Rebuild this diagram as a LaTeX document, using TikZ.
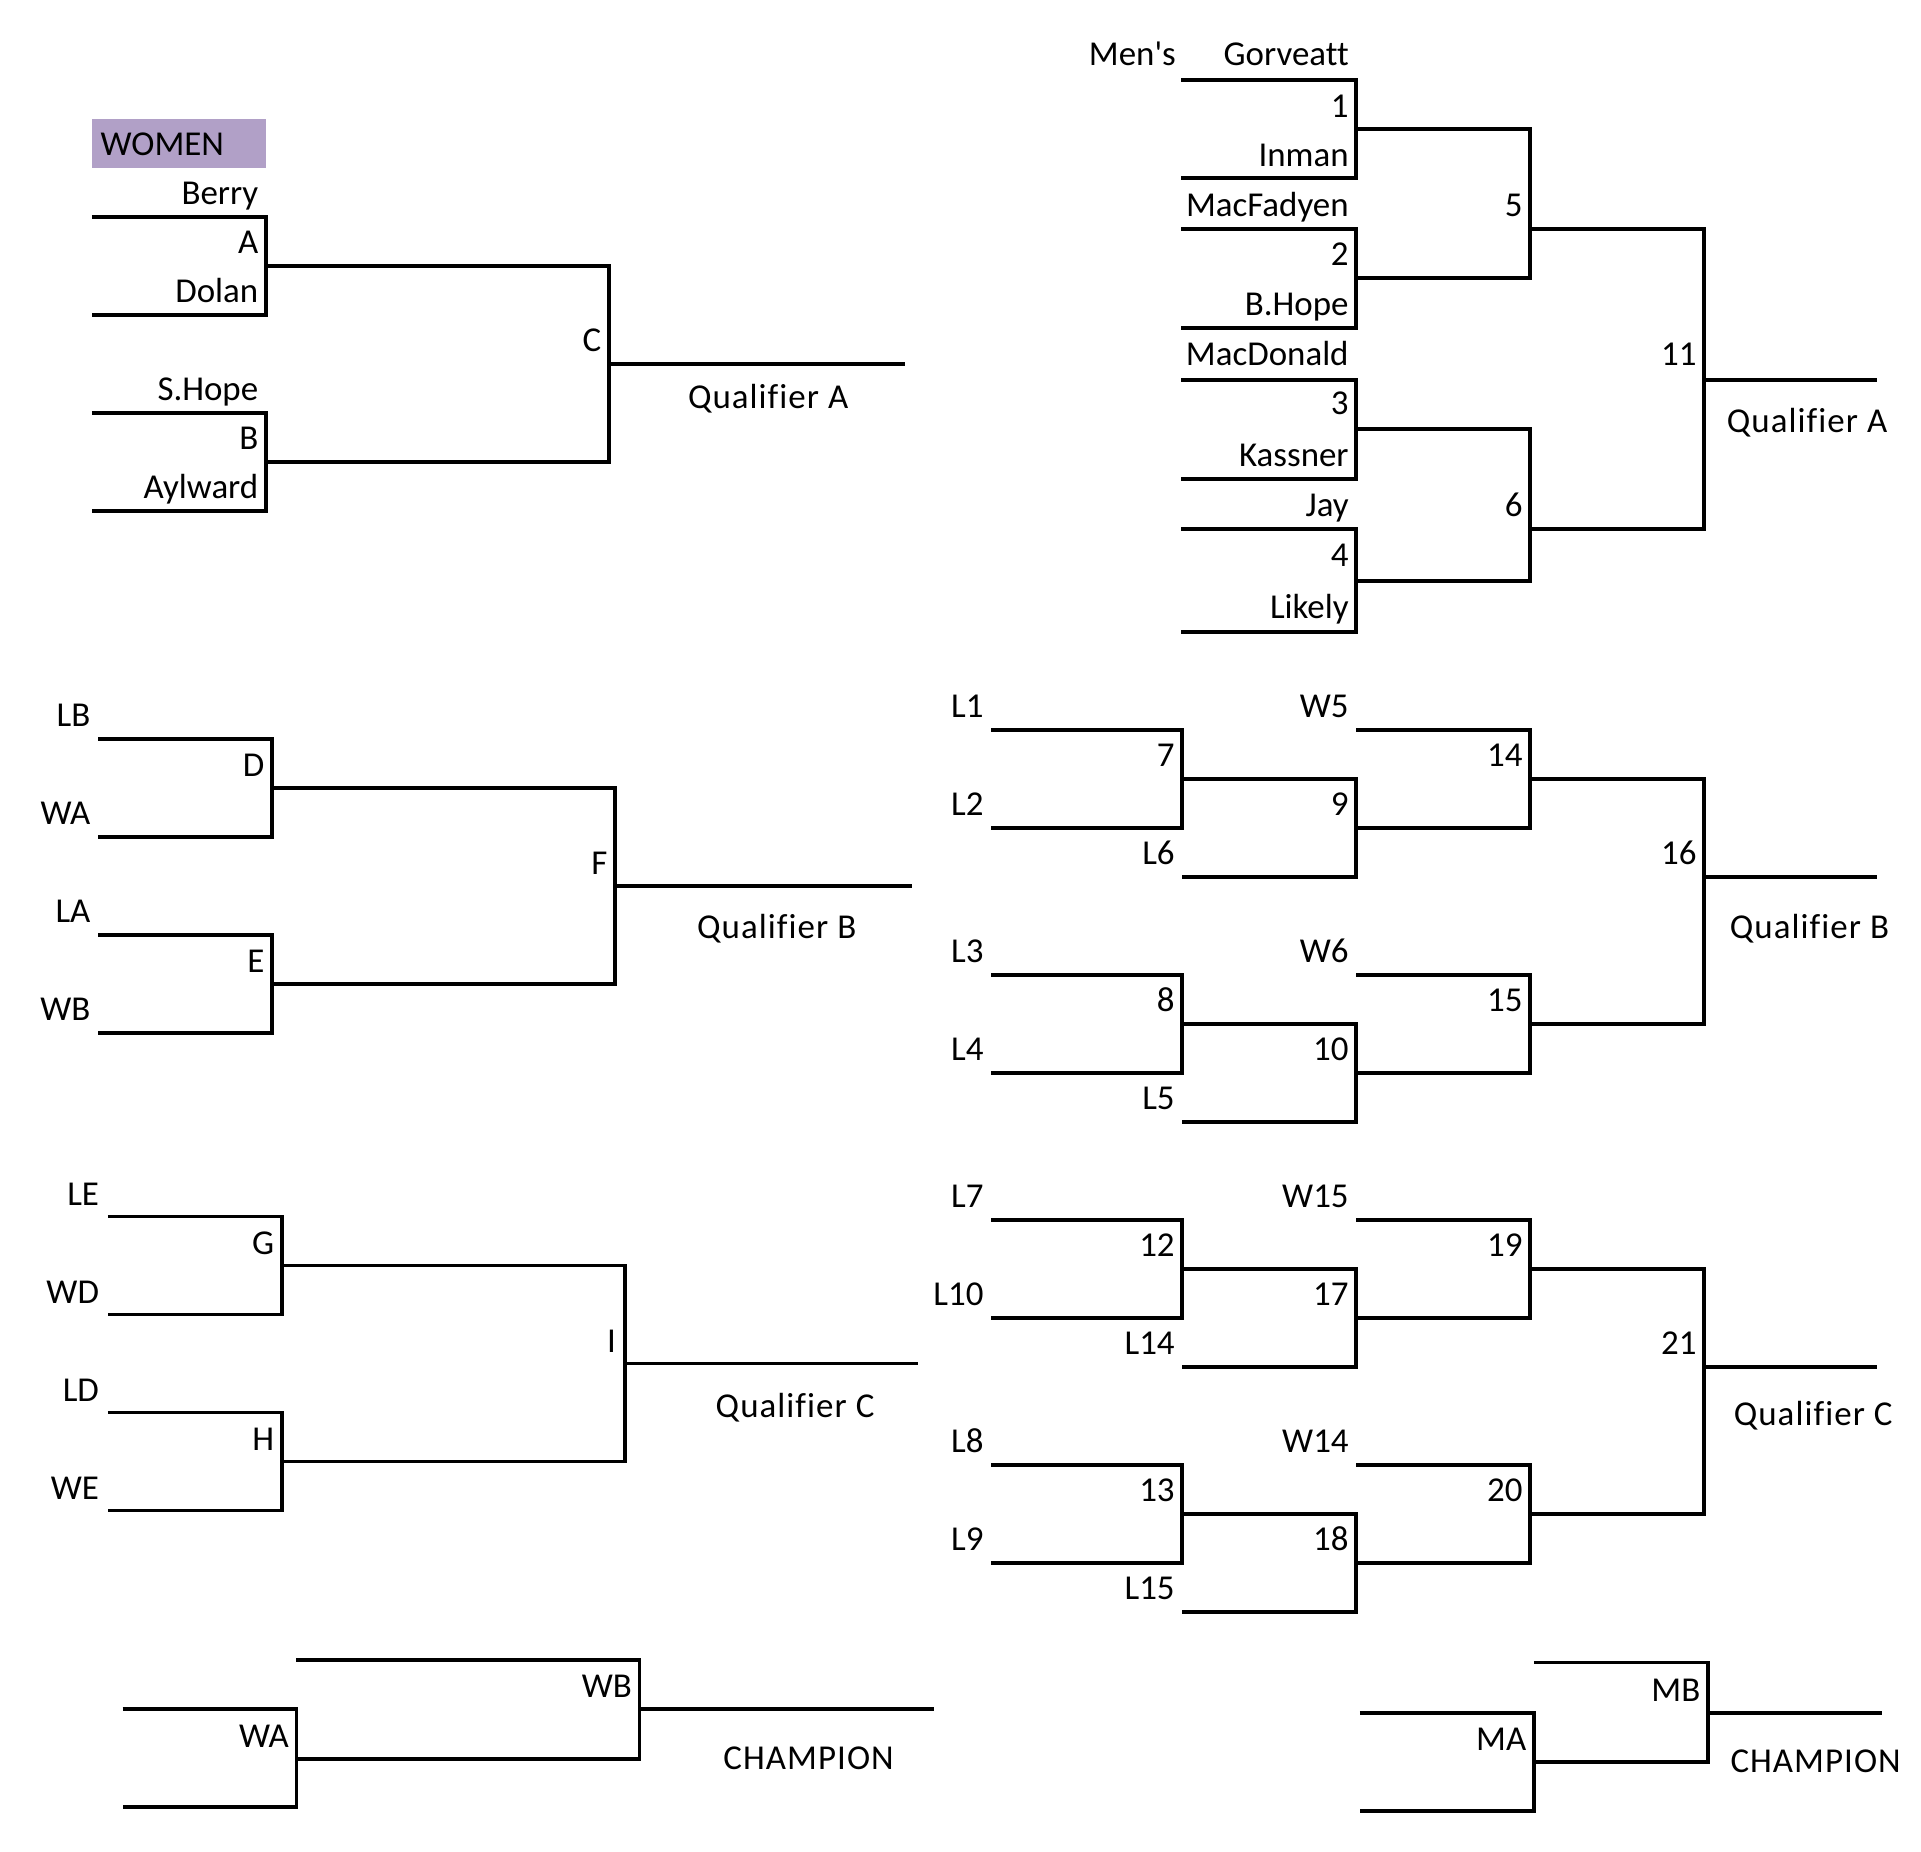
\documentclass[tikz,border=0pt]{standalone}
\usepackage{fontspec}
\setmainfont{Carlito}[Ligatures={NoCommon,TeXOff}]
\definecolor{womenfill}{HTML}{B1A0C7}
\tikzset{
  bline/.style={line width=3.1pt, line join=miter},
  lbl/.style={inner sep=0pt, anchor=east, yshift=-5.5pt, text height=0.644em, text depth=0pt},
  qlbl/.style={inner sep=0pt, anchor=center, yshift=-5.5pt, text height=0.644em, text depth=0pt,
    font=\fontsize{28.5}{34}\selectfont\addfontfeature{LetterSpace=3}}
}
\begin{document}
\begin{tikzpicture}[x=1pt, y=-1pt, font=\fontsize{28.5}{34}\selectfont]
    \useasboundingbox (0,0) rectangle (1568,1511);

    % Women, first round
    \node[fill=womenfill, minimum width=142pt, minimum height=40pt, anchor=north west, inner sep=0pt] (women) at (75,97) {};
    \node[lbl, anchor=west] (womenlbl) at (82,118) {WOMEN};
    \node[lbl] (berry) at (211,158) {Berry};
    \node[lbl] (gameA) at (211,198) {A};
    \node[lbl] (dolan) at (211,238) {Dolan};
    \node[lbl] (gameC) at (491,278) {C};
    \node[lbl] (shope) at (211,318) {S.Hope};
    \node[lbl] (gameB) at (211,358) {B};
    \node[lbl] (aylward) at (211,398) {Aylward};
    \node[qlbl] (wqa) at (627,325) {Qualifier A};
    \draw[bline] (75,177) -| (217,257) -- (75,257);
    \draw[bline] (75,337) -| (217,417) -- (75,417);
    \draw[bline] (217,217) -| (497,377) -- (217,377);
    \draw[bline] (497,297) -- (739,297);

    % Men, first round
    \node[lbl] (mens) at (960,45) {Men's};
    \node[lbl] (gorveatt) at (1101,45) {Gorveatt};
    \node[lbl] (game1) at (1101,87) {1};
    \node[lbl] (inman) at (1101,127) {Inman};
    \node[lbl] (macfadyen) at (1101,168) {MacFadyen};
    \node[lbl] (game2) at (1101,208) {2};
    \node[lbl] (bhope) at (1101,249) {B.Hope};
    \node[lbl] (macdonald) at (1101,290) {MacDonald};
    \node[lbl] (game3) at (1101,330) {3};
    \node[lbl] (kassner) at (1101,372) {Kassner};
    \node[lbl] (jay) at (1101,413) {Jay};
    \node[lbl] (game4) at (1101,454) {4};
    \node[lbl] (likely) at (1101,496) {Likely};
    \node[lbl] (game5) at (1243,168) {5};
    \node[lbl] (game6) at (1243,413) {6};
    \node[lbl] (game11) at (1385,290) {11};
    \node[qlbl] (mqa) at (1475,344) {Qualifier A};
    \draw[bline] (964,65) -| (1107,145) -- (964,145);
    \draw[bline] (964,187) -| (1107,268) -- (964,268);
    \draw[bline] (964,310) -| (1107,391) -- (964,391);
    \draw[bline] (964,432) -| (1107,516) -- (964,516);
    \draw[bline] (1107,105) -| (1249,227) -- (1107,227);
    \draw[bline] (1107,350) -| (1249,474) -- (1107,474);
    \draw[bline] (1249,187) -| (1391,432) -- (1249,432);
    \draw[bline] (1391,310) -- (1532,310);

    % Women, second chance
    \node[lbl] (wlb) at (74,584) {LB};
    \node[lbl] (gameD) at (216,625) {D};
    \node[lbl] (wwa) at (74,664) {WA};
    \node[lbl] (gameF) at (496,705) {F};
    \node[lbl] (wla) at (74,744) {LA};
    \node[lbl] (gameE) at (216,785) {E};
    \node[lbl] (wwb) at (74,824) {WB};
    \node[qlbl] (wqb) at (634,757) {Qualifier B};
    \draw[bline] (80,603) -| (222,683) -- (80,683);
    \draw[bline] (80,763) -| (222,843) -- (80,843);
    \draw[bline] (222,643) -| (502,803) -- (222,803);
    \draw[bline] (502,723) -- (744,723);

    % Women, third chance
    \node[lbl] (wle) at (81,975) {LE};
    \node[lbl] (gameG) at (224,1015) {G};
    \node[lbl] (wwd) at (81,1055) {WD};
    \node[lbl] (gameI) at (503,1095) {I};
    \node[lbl] (wld) at (81,1135) {LD};
    \node[lbl] (gameH) at (224,1175) {H};
    \node[lbl] (wwe) at (81,1215) {WE};
    \node[qlbl] (wqc) at (649,1148) {Qualifier C};
    \draw[bline] (88,993) -| (230,1073) -- (88,1073);
    \draw[bline] (88,1153) -| (230,1233) -- (88,1233);
    \draw[bline] (230,1033) -| (510,1193) -- (230,1193);
    \draw[bline] (510,1113) -- (749,1113);

    % Men, second and third chance
    \foreach \d in {0,400} {
        \draw[bline] (809,596+\d) -| (965,676+\d) -- (809,676+\d);
        \draw[bline] (965,636+\d) -| (1107,716+\d) -- (965,716+\d);
        \draw[bline] (1107,596+\d) -| (1249,676+\d) -- (1107,676+\d);
        \draw[bline] (809,796+\d) -| (965,876+\d) -- (809,876+\d);
        \draw[bline] (965,836+\d) -| (1107,916+\d) -- (965,916+\d);
        \draw[bline] (1107,796+\d) -| (1249,876+\d) -- (1107,876+\d);
        \draw[bline] (1249,636+\d) -| (1391,836+\d) -- (1249,836+\d);
        \draw[bline] (1391,716+\d) -- (1532,716+\d);
    }
    \node[lbl] (ml1) at (803,577) {L1};
    \node[lbl] (ml2) at (803,657) {L2};
    \node[lbl] (game7) at (959,617) {7};
    \node[lbl] (ml6) at (959,697) {L6};
    \node[lbl] (game9) at (1101,657) {9};
    \node[lbl] (mw5) at (1101,577) {W5};
    \node[lbl] (game14) at (1243,617) {14};
    \node[lbl] (ml3) at (803,777) {L3};
    \node[lbl] (ml4) at (803,857) {L4};
    \node[lbl] (game8) at (959,817) {8};
    \node[lbl] (ml5) at (959,897) {L5};
    \node[lbl] (game10) at (1101,857) {10};
    \node[lbl] (mw6) at (1101,777) {W6};
    \node[lbl] (game15) at (1243,817) {15};
    \node[lbl] (game16) at (1385,697) {16};
    \node[qlbl] (mqb) at (1477,757) {Qualifier B};

    \node[lbl] (ml7) at (803,977) {L7};
    \node[lbl] (ml10) at (803,1057) {L10};
    \node[lbl] (game12) at (959,1017) {12};
    \node[lbl] (ml14) at (959,1097) {L14};
    \node[lbl] (game17) at (1101,1057) {17};
    \node[lbl] (mw15) at (1101,977) {W15};
    \node[lbl] (game19) at (1243,1017) {19};
    \node[lbl] (ml8) at (803,1177) {L8};
    \node[lbl] (ml9) at (803,1257) {L9};
    \node[lbl] (game13) at (959,1217) {13};
    \node[lbl] (ml15) at (959,1297) {L15};
    \node[lbl] (game18) at (1101,1257) {18};
    \node[lbl] (mw14) at (1101,1177) {W14};
    \node[lbl] (game20) at (1243,1217) {20};
    \node[lbl] (game21) at (1385,1097) {21};
    \node[qlbl] (mqc) at (1480,1155) {Qualifier C};

    % Women, final
    \node[lbl] (wfa) at (236,1418) {WA};
    \node[lbl] (wfb) at (516,1377) {WB};
    \node[qlbl] (wchamp) at (660,1436) {CHAMPION};
    \draw[bline] (100,1395) -| (242,1475) -- (100,1475);
    \draw[bline] (242,1355) -| (522,1436) -- (242,1436);
    \draw[bline] (522,1395) -- (762,1395);

    % Men, final
    \node[lbl] (mfa) at (1246,1420) {MA};
    \node[lbl] (mfb) at (1388,1380) {MB};
    \node[qlbl] (mchamp) at (1482,1438) {CHAMPION};
    \draw[bline] (1110,1398) -| (1252,1478) -- (1110,1478);
    \draw[bline] (1252,1357) -| (1394,1438) -- (1252,1438);
    \draw[bline] (1394,1398) -- (1536,1398);
\end{tikzpicture}
\end{document}
